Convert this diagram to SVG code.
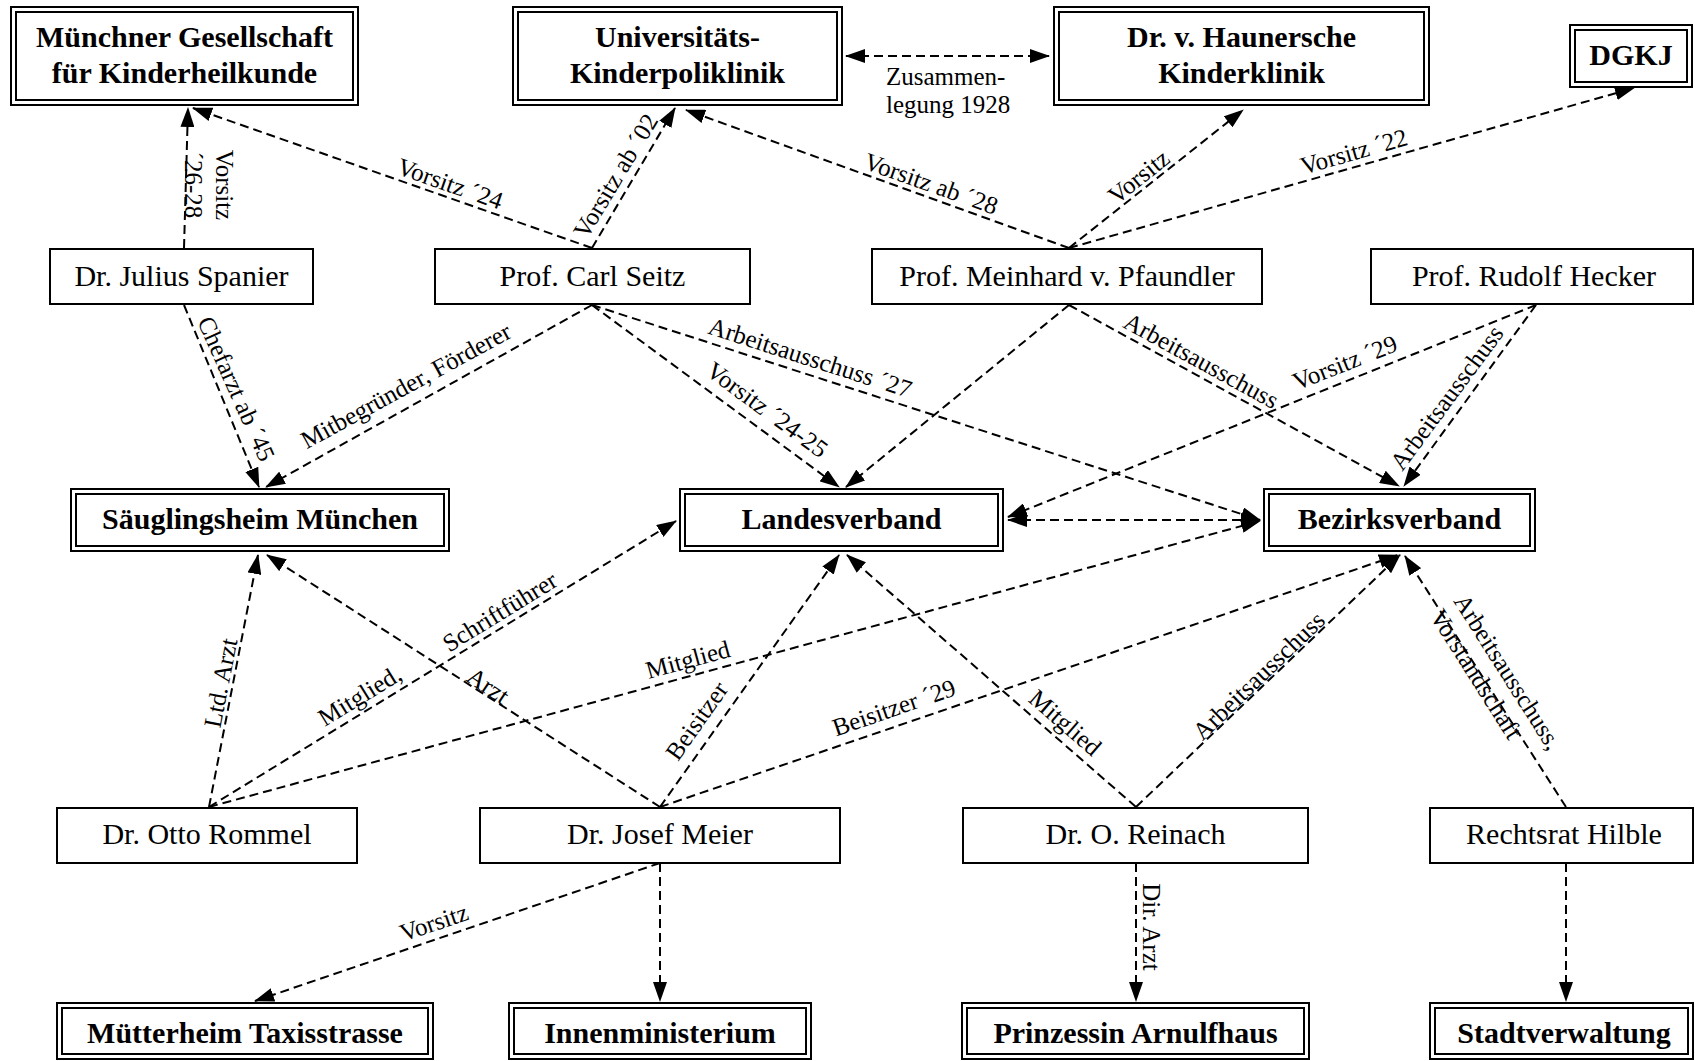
<svg xmlns="http://www.w3.org/2000/svg" width="1695" height="1061" viewBox="0 0 1695 1061">
<defs>
<style>
.box{fill:#fff;stroke:#000;stroke-width:2}
.in{fill:none;stroke:#000;stroke-width:2}
.nl{font-family:"Liberation Serif","Times New Roman",serif;font-size:30px;text-anchor:middle;fill:#000}
.nb{font-weight:bold}
.el{font-family:"Liberation Serif","Times New Roman",serif;font-size:25px;text-anchor:middle;fill:#000}
.st{text-anchor:start}
.e{fill:none;stroke:#000;stroke-width:2;stroke-dasharray:9,5;marker-end:url(#ah)}
.d{marker-start:url(#ahr)}
</style>
<marker id="ah" markerUnits="userSpaceOnUse" markerWidth="20" markerHeight="14" refX="19" refY="7" orient="auto"><path d="M0,0 L20,7 L0,14 z" fill="#000"/></marker>
<marker id="ahr" markerUnits="userSpaceOnUse" markerWidth="20" markerHeight="14" refX="1" refY="7" orient="auto"><path d="M20,0 L0,7 L20,14 z" fill="#000"/></marker>
</defs>
<rect width="1695" height="1061" fill="#fff"/>

<g id="n-muenchner"><rect class="box" x="11" y="7" width="347" height="98"/><rect class="in" x="16" y="12" width="337" height="88"/><text class="nl nb" x="184.5" y="47">Münchner Gesellschaft</text><text class="nl nb" x="184.5" y="83">für Kinderheilkunde</text></g>
<g id="n-uni"><rect class="box" x="513" y="7" width="329" height="98"/><rect class="in" x="518" y="12" width="319" height="88"/><text class="nl nb" x="677.5" y="47">Universitäts-</text><text class="nl nb" x="677.5" y="83">Kinderpoliklinik</text></g>
<g id="n-hauner"><rect class="box" x="1054" y="7" width="375" height="98"/><rect class="in" x="1059" y="12" width="365" height="88"/><text class="nl nb" x="1241.5" y="47">Dr. v. Haunersche</text><text class="nl nb" x="1241.5" y="83">Kinderklinik</text></g>
<g id="n-dgkj"><rect class="box" x="1570" y="25" width="122" height="62"/><rect class="in" x="1575" y="30" width="112" height="52"/><text class="nl nb" x="1631" y="65">DGKJ</text></g>

<g id="n-spanier"><rect class="box" x="50" y="249" width="263" height="55"/><text class="nl" x="181.5" y="286">Dr. Julius Spanier</text></g>
<g id="n-seitz"><rect class="box" x="435" y="249" width="315" height="55"/><text class="nl" x="592.5" y="286">Prof. Carl Seitz</text></g>
<g id="n-pfaundler"><rect class="box" x="872" y="249" width="390" height="55"/><text class="nl" x="1067" y="286">Prof. Meinhard v. Pfaundler</text></g>
<g id="n-hecker"><rect class="box" x="1371" y="249" width="322" height="55"/><text class="nl" x="1534" y="286">Prof. Rudolf Hecker</text></g>

<g id="n-saeugling"><rect class="box" x="71" y="489" width="378" height="62"/><rect class="in" x="76" y="494" width="368" height="52"/><text class="nl nb" x="260" y="529">Säuglingsheim München</text></g>
<g id="n-landes"><rect class="box" x="680" y="489" width="323" height="62"/><rect class="in" x="685" y="494" width="313" height="52"/><text class="nl nb" x="841.5" y="529">Landesverband</text></g>
<g id="n-bezirk"><rect class="box" x="1264" y="489" width="271" height="62"/><rect class="in" x="1269" y="494" width="261" height="52"/><text class="nl nb" x="1399.5" y="529">Bezirksverband</text></g>

<g id="n-rommel"><rect class="box" x="57" y="808" width="300" height="55"/><text class="nl" x="207" y="844">Dr. Otto Rommel</text></g>
<g id="n-meier"><rect class="box" x="480" y="808" width="360" height="55"/><text class="nl" x="660" y="844">Dr. Josef Meier</text></g>
<g id="n-reinach"><rect class="box" x="963" y="808" width="345" height="55"/><text class="nl" x="1135.5" y="844">Dr. O. Reinach</text></g>
<g id="n-hilble"><rect class="box" x="1430" y="808" width="263" height="55"/><text class="nl" x="1564" y="844">Rechtsrat Hilble</text></g>

<g id="n-muetter"><rect class="box" x="57" y="1003" width="376" height="56"/><rect class="in" x="62" y="1008" width="366" height="46"/><text class="nl nb" x="245" y="1043">Mütterheim Taxisstrasse</text></g>
<g id="n-innen"><rect class="box" x="509" y="1003" width="302" height="56"/><rect class="in" x="514" y="1008" width="292" height="46"/><text class="nl nb" x="660" y="1043">Innenministerium</text></g>
<g id="n-prinzessin"><rect class="box" x="962" y="1003" width="347" height="56"/><rect class="in" x="967" y="1008" width="337" height="46"/><text class="nl nb" x="1135.5" y="1043">Prinzessin Arnulfhaus</text></g>
<g id="n-stadt"><rect class="box" x="1430" y="1003" width="263" height="56"/><rect class="in" x="1435" y="1008" width="253" height="46"/><text class="nl nb" x="1564" y="1043">Stadtverwaltung</text></g>

<g id="connectors">
<path class="e" d="M184,248 L188,108"/>
<path class="e" d="M592,248 L193,108"/>
<path class="e" d="M592,248 L675,108"/>
<path class="e d" d="M846,56 L1049,56"/>
<path class="e" d="M1069,248 L686,110"/>
<path class="e" d="M1069,248 L1243,110"/>
<path class="e" d="M1069,248 L1634,88"/>
<path class="e" d="M184,305 L259,487"/>
<path class="e" d="M592,305 L266,487"/>
<path class="e" d="M592,305 L839,487"/>
<path class="e" d="M592,305 L1260,520"/>
<path class="e" d="M1069,305 L846,487"/>
<path class="e" d="M1069,305 L1399,486"/>
<path class="e" d="M1536,305 L1008,517"/>
<path class="e" d="M1536,305 L1404,486"/>
<path class="e d" d="M1008,520 L1260,520"/>
<path class="e" d="M209,807 L258,555"/>
<path class="e" d="M209,807 L676,521"/>
<path class="e" d="M209,807 L1260,521"/>
<path class="e" d="M660,807 L267,555"/>
<path class="e" d="M660,807 L839,555"/>
<path class="e" d="M660,807 L1398,555"/>
<path class="e" d="M1136,807 L847,555"/>
<path class="e" d="M1136,807 L1400,555"/>
<path class="e" d="M1566,807 L1405,556"/>
<path class="e" d="M660,863 L255,1001"/>
<path class="e" d="M660,863 L660,1001"/>
<path class="e" d="M1136,863 L1136,1001"/>
<path class="e" d="M1566,863 L1566,1001"/>

<text class="el" transform="translate(208,185) rotate(90)"><tspan x="0" y="-8">Vorsitz</tspan><tspan x="0" y="23">´26-28</tspan></text>
<text class="el" transform="translate(450,184) rotate(19.3)" y="8">Vorsitz ´24</text>
<text class="el" transform="translate(616,176) rotate(-59)" y="8">Vorsitz ab ´02</text>
<text class="el st" x="886" y="85">Zusammen-</text>
<text class="el st" x="886" y="113">legung 1928</text>
<text class="el" transform="translate(931,184) rotate(19.5)" y="8">Vorsitz ab ´28</text>
<text class="el" transform="translate(1139,177) rotate(-38.6)" y="8">Vorsitz</text>
<text class="el" transform="translate(1354,152) rotate(-16)" y="8">Vorsitz ´22</text>
<text class="el" transform="translate(236,389) rotate(66)" y="8">Chefarzt ab ´45</text>
<text class="el" transform="translate(406,386) rotate(-28.6)" y="8">Mitbegründer, Förderer</text>
<text class="el" transform="translate(767,410) rotate(36.3)" y="8">Vorsitz ´24-25</text>
<text class="el" transform="translate(810,358) rotate(17.8)" y="8">Arbeitsausschuss ´27</text>
<text class="el" transform="translate(1201,361) rotate(28.7)" y="8">Arbeitsausschuss</text>
<text class="el" transform="translate(1345,363) rotate(-21.5)" y="8">Vorsitz ´29</text>
<text class="el" transform="translate(1447,398) rotate(-53.5)" y="8">Arbeitsausschuss</text>
<text class="el" transform="translate(221,683) rotate(-79)" y="8">Ltd. Arzt</text>
<text class="el" transform="translate(360,696) rotate(-31.6)" y="8">Mitglied,</text>
<text class="el" transform="translate(500,612) rotate(-31.6)" y="8">Schriftführer</text>
<text class="el" transform="translate(488,686) rotate(34)" y="8">Arzt</text>
<text class="el" transform="translate(688,660) rotate(-15.3)" y="8">Mitglied</text>
<text class="el" transform="translate(697,721) rotate(-54.8)" y="8">Beisitzer</text>
<text class="el" transform="translate(894,708) rotate(-19)" y="8">Beisitzer ´29</text>
<text class="el" transform="translate(1065,723) rotate(41)" y="8">Mitglied</text>
<text class="el" transform="translate(1259,676) rotate(-44)" y="8">Arbeitsausschuss</text>
<text class="el st" transform="translate(1453,601) rotate(57.6)"><tspan x="0" y="0">Arbeitsausschuss,</tspan><tspan x="0" y="28">Vorstandschaft</tspan></text>
<text class="el" transform="translate(434,923) rotate(-18.7)" y="8">Vorsitz</text>
<text class="el" transform="translate(1151,927) rotate(90)" y="8">Dir. Arzt</text>
</g>
</svg>
